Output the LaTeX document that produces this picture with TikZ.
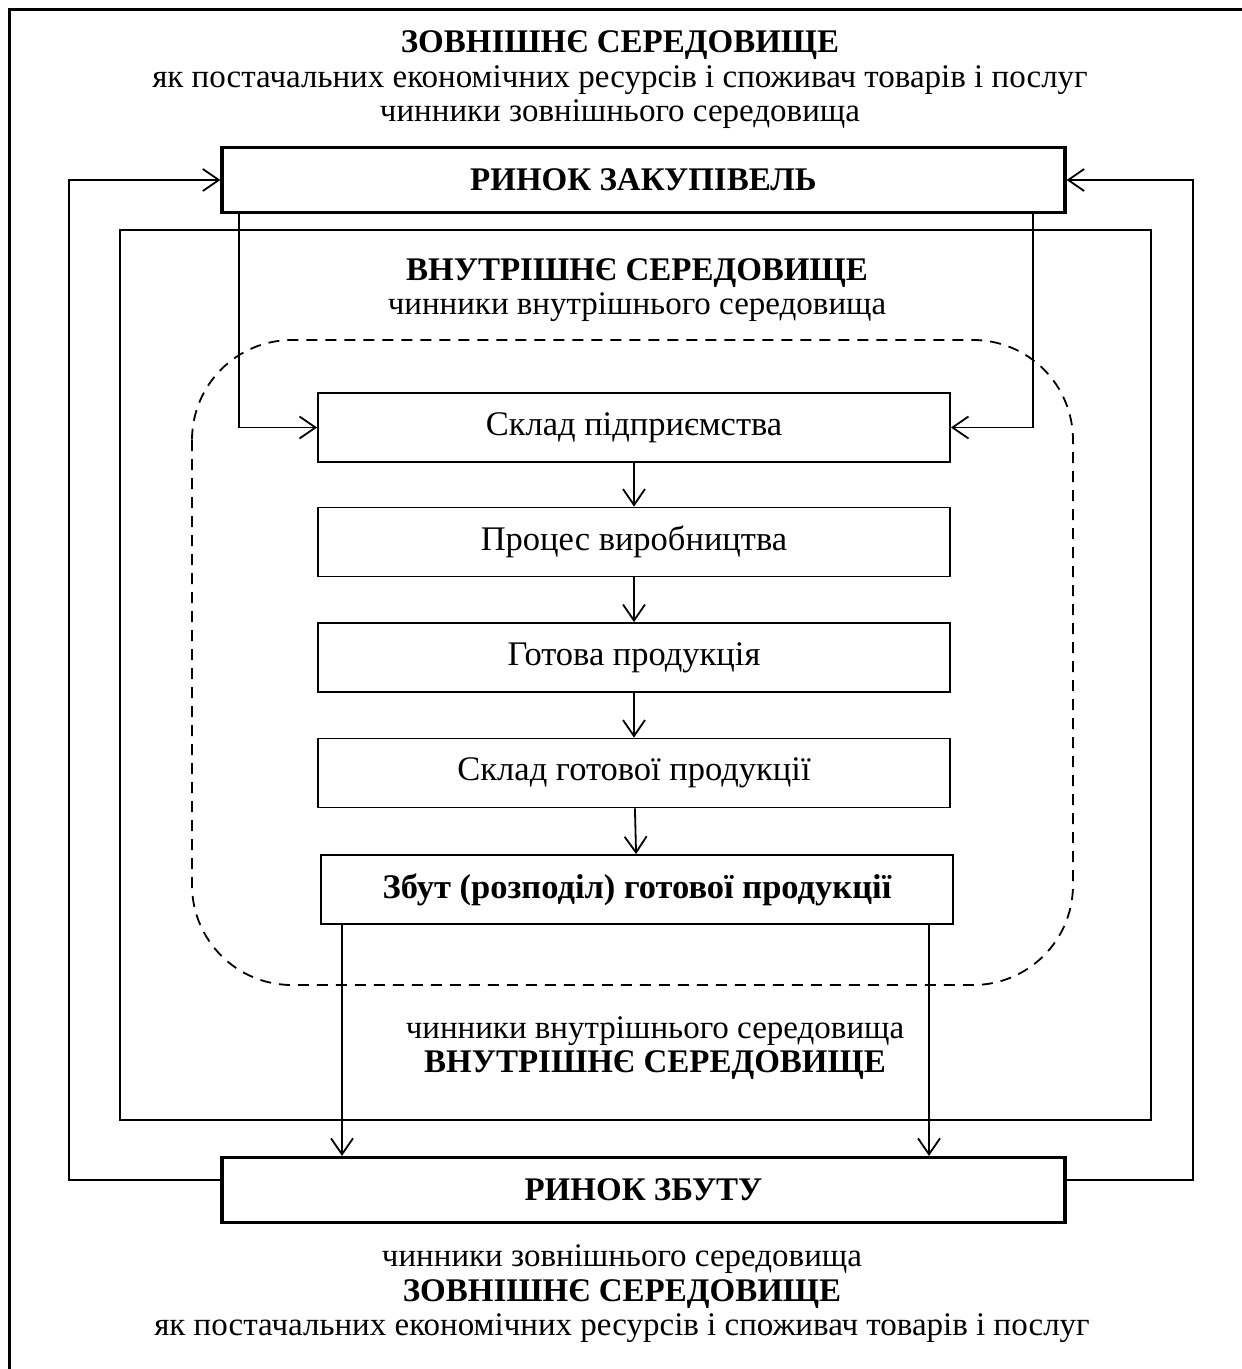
\documentclass[tikz,border=0pt]{standalone}
\usepackage{fontspec}
\setmainfont{Liberation Serif}
\usetikzlibrary{arrows.meta, calc, positioning}

\tikzset{
    stage/.style={draw, line width=1.8pt, minimum width=632pt, minimum height=69pt,
        inner sep=0pt, font=\fontsize{34.5}{36}\selectfont},
    market/.style={draw, line width=3.2pt, minimum width=843pt, minimum height=65pt,
        inner sep=0pt, font=\fontsize{33}{36}\selectfont\bfseries},
    caption/.style={align=center, inner sep=0pt, font=\fontsize{33}{34.5}\selectfont},
    flow/.style={line width=1.8pt, -{Straight Barb[length=16pt, width=22pt, line width=1.8pt]}},
}

\begin{document}
\begin{tikzpicture}[x=1pt, y=-1pt]
    \useasboundingbox (0,0) rectangle (1242,1369);

    % зовнішня рамка
    \draw[line width=3pt] (9.5,1369) -- (9.5,9.5) -- (1242,9.5);

    % внутрішнє середовище
    \draw[line width=1.8pt] (120,230) rectangle (1151,1120);
    \draw[line width=1.8pt, dash pattern=on 11pt off 8pt, rounded corners=100pt]
        (192,340) rectangle (1073,985);

    % підписи
    \node[caption] (extTop) at (620,80)
        {\textbf{ЗОВНІШНЄ СЕРЕДОВИЩЕ}\\як постачальних економічних ресурсів і споживач товарів і послуг\\чинники зовнішнього середовища};
    \node[caption] (intTop) at (637,290)
        {\textbf{ВНУТРІШНЄ СЕРЕДОВИЩЕ}\\чинники внутрішнього середовища};
    \node[caption] (intBot) at (655,1048)
        {чинники внутрішнього середовища\\\textbf{ВНУТРІШНЄ СЕРЕДОВИЩЕ}};
    \node[caption] (extBot) at (622,1294)
        {чинники зовнішнього середовища\\\textbf{ЗОВНІШНЄ СЕРЕДОВИЩЕ}\\як постачальних економічних ресурсів і споживач товарів і послуг};

    % ринки
    \node[market] (buy) at (643.5,180) {РИНОК ЗАКУПІВЕЛЬ};
    \node[market] (sell) at (643.5,1190) {РИНОК ЗБУТУ};

    % етапи
    \node[stage] (store) at (634,427.5) {Склад підприємства};
    \node[stage] (prod) at (634,542) {Процес виробництва};
    \node[stage] (ready) at (634,657.5) {Готова продукція};
    \node[stage] (stock) at (634,773) {Склад готової продукції};
    \node[stage, font=\fontsize{34.5}{36}\selectfont\bfseries] (dist) at (637,889.5) {Збут (розподіл) готової продукції};

    \draw[flow] (store) -- (prod);
    \draw[flow] (prod) -- (ready);
    \draw[flow] (ready) -- (stock);
    \draw[flow] (stock) -- (dist);

    % надходження ресурсів
    \coordinate (buyL) at (239,0);
    \coordinate (buyR) at (1033,0);
    \draw[flow] (buy.south -| buyL) |- (store.west);
    \draw[flow] (buy.south -| buyR) |- (store.east);

    % збут
    \coordinate (distL) at (342,0);
    \coordinate (distR) at (929,0);
    \draw[flow] (dist.south -| distL) -- (sell.north -| distL);
    \draw[flow] (dist.south -| distR) -- (sell.north -| distR);

    % зворотні зв'язки
    \coordinate (loopL) at (69,1180);
    \coordinate (loopR) at (1193,1180);
    \draw[flow] (sell.west |- loopL) -- (loopL) |- (buy.west);
    \draw[flow] (sell.east |- loopR) -- (loopR) |- (buy.east);
\end{tikzpicture}
\end{document}
